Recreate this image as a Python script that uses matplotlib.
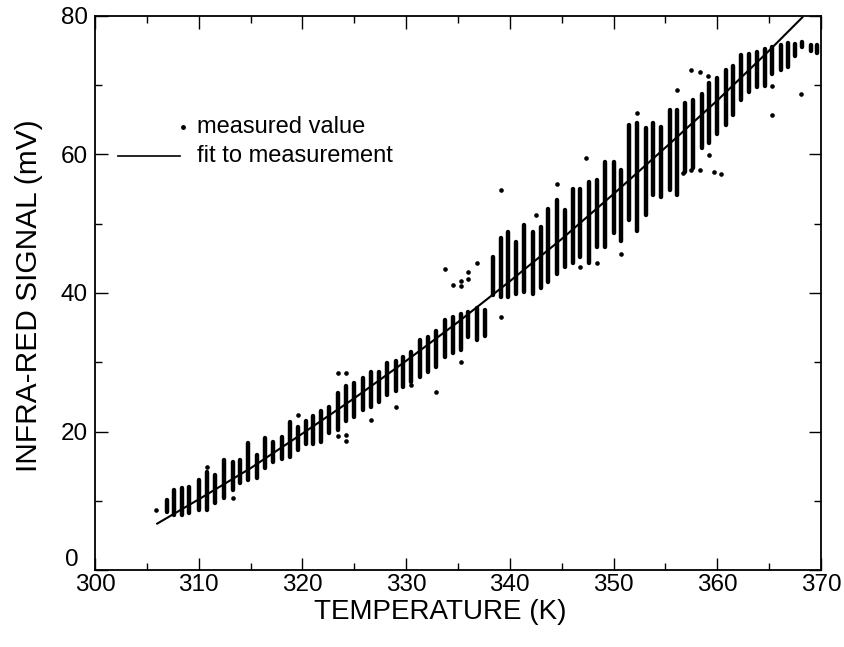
import numpy as np
import matplotlib
matplotlib.use("Agg")
import matplotlib.pyplot as plt
import matplotlib.transforms as mtransforms
from matplotlib.ticker import MultipleLocator, FuncFormatter

plt.rcParams['font.family'] = ['Liberation Sans', 'DejaVu Sans']

# measured values: each temperature step gives a column of readings
# (dense part stored as its low/high end, stray readings listed separately)
col_t = [306.9, 307.6, 308.4, 309.1, 310.0, 310.8, 311.6, 312.4, 313.3, 314.0,
         314.8, 315.6, 316.4, 317.2, 318.0, 318.8, 319.6, 320.3, 321.0, 321.8,
         322.6, 323.4, 324.2, 325.0, 325.8, 326.6, 327.4, 328.2, 329.0, 329.7,
         330.5, 331.3, 332.1, 332.9, 333.7, 334.5, 335.3, 336.0, 336.8, 337.6,
         338.4, 339.1, 339.8, 340.6, 341.4, 342.2, 343.0, 343.7, 344.5, 345.3,
         346.1, 346.8, 347.6, 348.4, 349.2, 350.0, 350.7, 351.5, 352.3, 353.1,
         353.8, 354.6, 355.4, 356.1, 356.9, 357.7, 358.5, 359.2, 360.0, 360.8,
         361.5, 362.3, 363.1, 363.8, 364.6, 365.3, 366.1, 366.8, 367.5, 368.2,
         369.0, 369.6]
col_lo = [8.4, 7.9, 7.9, 8.2, 8.7, 8.7, 9.7, 10.4, 11.5, 12.5,
          13.0, 13.3, 14.7, 15.6, 16.0, 16.3, 17.3, 18.2, 18.2, 18.5,
          19.8, 20.2, 21.5, 22.1, 23.1, 23.5, 24.2, 25.3, 25.8, 26.4,
          27.1, 27.9, 28.6, 29.3, 30.8, 31.3, 31.8, 33.6, 33.2, 33.8,
          39.7, 39.4, 39.4, 39.9, 40.2, 39.9, 40.7, 41.6, 42.8, 43.8,
          44.3, 45.2, 44.3, 46.6, 46.6, 48.6, 47.5, 50.5, 49.0, 51.2,
          54.1, 53.8, 54.8, 54.1, 57.4, 58.0, 61.0, 61.6, 63.0, 64.2,
          65.7, 67.8, 69.0, 69.7, 69.9, 71.6, 72.2, 72.7, 74.2, 75.5,
          74.9, 74.6]
col_hi = [10.1, 11.5, 11.8, 12.0, 13.0, 14.1, 13.7, 15.9, 15.6, 15.9,
          18.3, 16.6, 19.0, 18.5, 19.2, 21.4, 20.6, 21.5, 22.2, 23.0,
          23.5, 25.5, 26.5, 27.0, 27.7, 28.6, 28.6, 29.9, 30.2, 30.8,
          31.5, 33.2, 33.6, 34.5, 36.1, 36.6, 37.0, 37.2, 37.8, 37.5,
          45.2, 48.0, 48.8, 47.4, 49.8, 48.8, 49.6, 52.2, 53.4, 52.0,
          55.0, 55.0, 56.0, 56.3, 58.9, 58.9, 57.7, 64.2, 64.6, 63.8,
          64.5, 63.9, 66.4, 66.4, 67.5, 67.8, 68.8, 70.3, 71.0, 72.2,
          72.8, 74.3, 74.5, 74.8, 75.2, 75.5, 75.8, 76.1, 76.0, 76.3,
          75.8, 75.8]

out_t = [305.9, 310.8, 313.3, 319.6, 323.4, 324.2, 323.4, 324.2, 324.2, 326.6,
         329.0, 330.5, 332.9, 333.7, 334.5, 335.3, 335.3, 335.3, 336.0, 336.0,
         336.8, 339.1, 339.1, 342.5, 344.5, 347.3, 346.8, 348.4, 350.7, 352.3,
         356.1, 356.7, 357.5, 358.3, 357.5, 358.3, 359.1, 359.2, 359.7, 360.4,
         365.3, 365.3, 368.1]
out_v = [8.7, 14.9, 10.4, 22.4, 28.4, 28.4, 19.3, 19.5, 18.7, 21.6,
         23.5, 26.7, 25.7, 43.4, 41.1, 41.8, 41.0, 30.0, 43.1, 42.0,
         44.3, 54.8, 36.5, 51.2, 55.8, 59.5, 43.8, 44.3, 45.7, 66.0,
         69.3, 57.3, 72.2, 71.9, 57.7, 57.7, 71.3, 59.9, 57.4, 57.2,
         65.7, 69.9, 68.8]

# fit curve
fit_t = [306.0, 310.0, 315.0, 320.0, 325.0, 330.0, 335.0, 340.0, 345.0,
         350.0, 355.0, 360.0, 365.0, 368.2]
fit_v = [6.7, 10.2, 14.7, 19.7, 24.8, 30.2, 35.8, 41.7, 47.8,
         54.3, 61.0, 67.8, 75.0, 79.8]

fig = plt.figure(figsize=(8.45, 6.47), dpi=100)
ax = fig.add_axes([0.1124, 0.119, 0.8592, 0.8563])

ax.vlines(col_t, col_lo, col_hi, color='black', linewidth=3.2,
          capstyle='round')
ax.scatter(out_t, out_v, s=11, color='black', linewidths=0)
ax.plot(fit_t, fit_v, color='black', linewidth=1.5)

# legend drawn by hand, dot at the right end of the line sample
ax.plot([0.121], [0.80], 'o', color='black', markersize=2.5,
        transform=ax.transAxes)
ax.plot([0.032, 0.117], [0.747, 0.747], color='black', linewidth=1.2,
        transform=ax.transAxes)
ax.text(0.140, 0.80, 'measured value', transform=ax.transAxes,
        fontsize=17, va='center', ha='left')
ax.text(0.140, 0.747, 'fit to measurement', transform=ax.transAxes,
        fontsize=17, va='center', ha='left')

ax.set_xlim(300, 370)
ax.set_ylim(0, 80)
ax.xaxis.set_major_locator(MultipleLocator(10))
ax.xaxis.set_minor_locator(MultipleLocator(5))
ax.yaxis.set_major_locator(MultipleLocator(20))
ax.yaxis.set_minor_locator(MultipleLocator(10))
# the zero label sits a little higher and further left, above the 300 label
ax.yaxis.set_major_formatter(FuncFormatter(lambda v, p: '' if v == 0 else f'{v:g}'))
zero_tr = mtransforms.offset_copy(ax.get_yaxis_transform(), fig=fig,
                                  x=-12, y=7, units='points')
ax.text(0, 0, '0', transform=zero_tr, fontsize=17.5, ha='right', va='center')

ax.tick_params(which='both', direction='in', top=True, right=True,
               labelsize=17.5, width=1)
ax.tick_params(which='major', length=9)
ax.tick_params(which='minor', length=5)
ax.tick_params(axis='x', pad=3)
ax.tick_params(axis='y', pad=5)
for s in ax.spines.values():
    s.set_linewidth(1.3)

ax.set_xlabel('TEMPERATURE (K)', fontsize=20)
ax.set_ylabel('INFRA-RED SIGNAL (mV)', fontsize=21.5)
ax.xaxis.set_label_coords(0.475, -0.052)
ax.yaxis.set_label_coords(-0.072, 0.496)

fig.savefig('out.png', dpi=100)
